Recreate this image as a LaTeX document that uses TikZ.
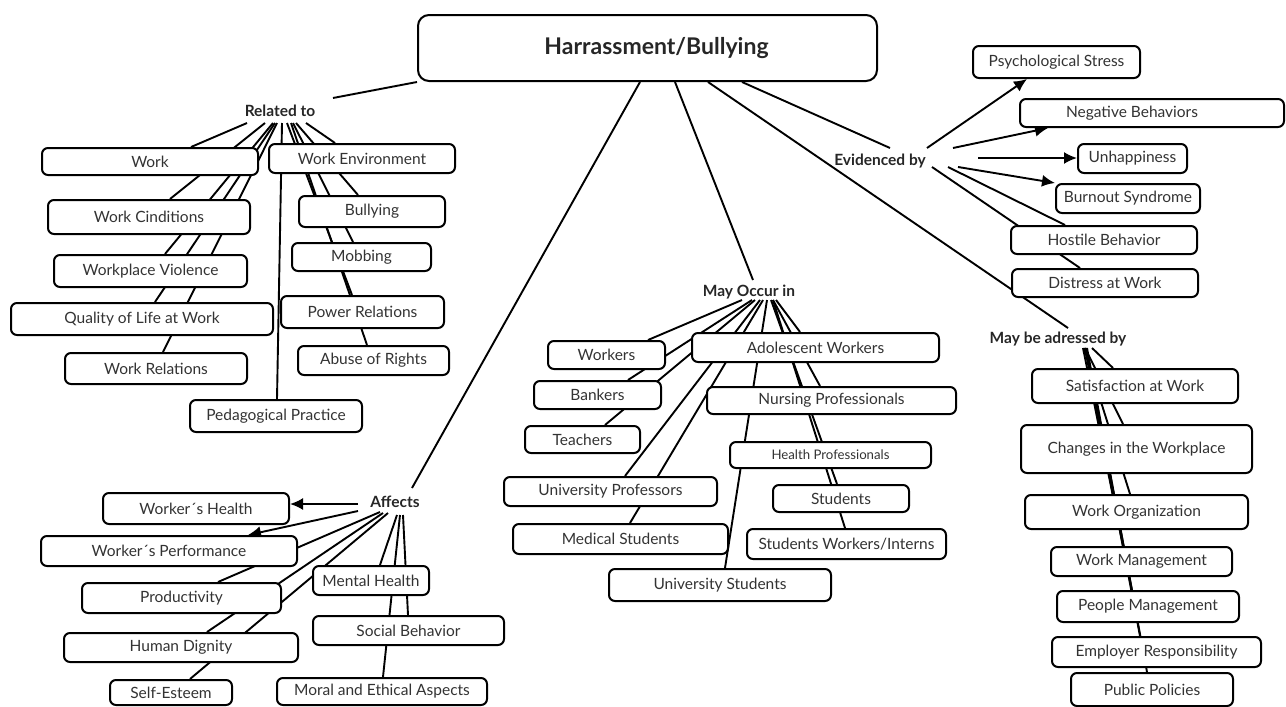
\documentclass[tikz,border=0pt]{standalone}
\usepackage{fontspec}
\setmainfont{Lato}
\usetikzlibrary{arrows.meta,calc}
\pgfdeclarelayer{bg}
\pgfsetlayers{bg,main}
\tikzset{
 cbox/.style={draw=black, rounded corners=6pt, line width=2pt, fill=white, inner sep=0pt, text=black!80, font=\fontsize{15.5}{18}\selectfont},
 lbl/.style={font=\bfseries\fontsize{15.5}{18}\selectfont, inner sep=1pt, text=black!85},
 conn/.style={line width=1.9pt},
 arr/.style={line width=1.9pt, -{Latex[length=13pt,width=12pt]}},
}
\newcommand\cbx[6]{%
 \pgfmathsetmacro\bxX{(#2+#4)/2}\pgfmathsetmacro\bxY{(#3+#5)/2}%
 \pgfmathsetmacro\bxW{#4-#2}\pgfmathsetmacro\bxH{#5-#3}%
 \node[cbox, minimum width=\bxW pt, minimum height=\bxH pt] (#1) at (\bxX,\bxY) {#6};}
\begin{document}
\begin{tikzpicture}[x=1pt,y=-1pt]
\useasboundingbox (0,0) rectangle (1286,707);
% main
\node[cbox, rounded corners=11pt, minimum width=459pt, minimum height=66pt, font=\bfseries\fontsize{23}{28}\selectfont, text=black!85] (main) at (647.5,48) {\hspace*{18pt}Harrassment/Bullying};
% labels
\node[lbl] (rel) at (280,111) {Related to};
\node[lbl] (aff) at (395,502) {Affects};
\node[lbl] (may) at (749,292) {May Occur in};
\node[lbl] (evi) at (880,161) {Evidenced by};
\node[lbl] (adr) at (1058,339) {May be adressed by};
% related to
\cbx{work}{42}{148}{258}{175}{Work}
\cbx{wenv}{269}{144}{455}{173}{Work Environment}
\cbx{wcond}{48}{200}{250}{234}{Work Cinditions}
\cbx{bull}{299}{196}{445}{227}{Bullying}
\cbx{mobb}{292}{243}{431}{271}{Mobbing}
\cbx{wviol}{54}{255}{247}{287}{Workplace Violence}
\cbx{power}{281}{296}{444}{328}{Power Relations}
\cbx{qual}{11}{303}{273}{335}{Quality of Life at Work}
\cbx{abuse}{298}{346}{449}{375}{Abuse of Rights}
\cbx{wrel}{65}{353}{247}{384}{Work Relations}
\cbx{peda}{190}{400}{362}{432}{Pedagogical Practice}
% affects
\cbx{whealth}{103}{493}{289}{524}{Worker´s Health}
\cbx{wperf}{41}{536}{297}{566}{Worker´s Performance}
\cbx{prod}{82}{583}{281}{613}{Productivity}
\cbx{hdig}{64}{633}{298}{662}{Human Dignity}
\cbx{selfe}{110}{680}{232}{705}{Self-Esteem}
\cbx{mental}{313}{566}{429}{595}{Mental Health}
\cbx{social}{313}{616}{504}{645}{Social Behavior}
\cbx{moral}{277}{678}{487}{705}{Moral and Ethical Aspects}
% may occur in
\cbx{workers}{548}{341}{665}{369}{Workers}
\cbx{adol}{692}{333}{939}{362}{Adolescent Workers}
\cbx{bank}{534}{381}{661}{409}{Bankers}
\cbx{nurs}{707}{387}{956}{414}{Nursing Professionals}
\cbx{teach}{525}{426}{640}{453}{Teachers}
\cbx{healthp}{730}{442}{931}{468}{\fontsize{13.2}{15}\selectfont Health Professionals}
\cbx{uprof}{504}{477}{717}{506}{University Professors}
\cbx{stud}{773}{485}{909}{512}{Students}
\cbx{med}{513}{524}{728}{554}{Medical Students}
\cbx{studw}{747}{529}{946}{559}{Students Workers/Interns}
\cbx{ustud}{609}{569}{831}{601}{University Students}
% evidenced by
\cbx{psy}{973}{46}{1140}{78}{Psychological Stress}
\cbx{neg}{1020}{99}{1284}{127}{Negative Behaviors\hspace*{40pt}}
\cbx{unh}{1078}{144}{1187}{173}{Unhappiness}
\cbx{burn}{1056}{184}{1200}{213}{Burnout Syndrome}
\cbx{host}{1011}{226}{1197}{254}{Hostile Behavior}
\cbx{dist}{1012}{269}{1198}{297}{Distress at Work}
% may be adressed by
\cbx{sat}{1032}{369}{1238}{403}{Satisfaction at Work}
\cbx{chg}{1021}{425}{1252}{473}{Changes in the Workplace}
\cbx{worg}{1025}{495}{1248}{529}{Work Organization}
\cbx{wmgmt}{1051}{547}{1232}{576}{Work Management}
\cbx{people}{1057}{591}{1239}{622}{People Management}
\cbx{empl}{1052}{637}{1261}{667}{Employer Responsibility}
\cbx{pub}{1071}{673}{1233}{706}{Public Policies}
\begin{pgfonlayer}{bg}
% main links
\draw[conn] (main.south west) -- ($(rel)+(53,-13)$);
\draw[conn] (main.south -| 640,0) -- ($(aff)+(17,-14)$);
\draw[conn] (main.south -| 675,0) -- ($(may)+(4,-12)$);
\draw[conn] (main.south -| 742,0) -- ($(evi)+(10,-13)$);
\draw[conn] (main.south -| 708,0) -- ($(adr)+(10,-11)$);
% related to
\draw[conn] ($(rel)+(-33,12)$) -- (work.north -| 191,0);
\draw[conn] ($(rel)+(-15,12)$) -- (wcond.north -| 170,0);
\draw[conn] ($(rel)+(-7,12)$) -- (wviol.north -| 165,0);
\draw[conn] ($(rel)+(-5,12)$) -- (qual.north -| 155,0);
\draw[conn] ($(rel)+(-3,12)$) -- (wrel.north -| 163,0);
\draw[conn] ($(rel)+(2,12)$) -- (peda.north -| 277,0);
\draw[conn] ($(rel)+(7,12)$) -- (power.north -| 352,0);
\draw[conn] ($(rel)+(11,12)$) -- (abuse.north -| 367,0);
\draw[conn] ($(rel)+(13,12)$) -- (mobb.north -| 353,0);
\draw[conn] ($(rel)+(16,12)$) -- (bull.north -| 358,0);
\draw[conn] ($(rel)+(26,12)$) -- (wenv.north -| 335,0);
% affects
\draw[arr] ($(aff)+(-37,2)$) -- (whealth.east |- 0,504);
\draw[arr] ($(aff)+(-37,9)$) -- (wperf.north -| 248,0);
\draw[conn] ($(aff)+(-15,10)$) -- (prod.north -| 218,0);
\draw[conn] ($(aff)+(-12,11)$) -- (hdig.north -| 207,0);
\draw[conn] ($(aff)+(-7,11)$) -- (selfe.north -| 190,0);
\draw[conn] ($(aff)+(2,13)$) -- (mental.north -| 380,0);
\draw[conn] ($(aff)+(5,13)$) -- (moral.north -| 383,0);
\draw[conn] ($(aff)+(8,13)$) -- (social.north -| 408,0);
% may occur in
\draw[conn] ($(may)+(-7,8)$) -- (workers.north -| 648,0);
\draw[conn] ($(may)+(3,8)$) -- (bank.north -| 628,0);
\draw[conn] ($(may)+(6,8)$) -- (teach.north -| 605,0);
\draw[conn] ($(may)+(11,8)$) -- (uprof.north -| 625,0);
\draw[conn] ($(may)+(14,8)$) -- (med.north -| 630,0);
\draw[conn] ($(may)+(18,8)$) -- (ustud.north -| 725,0);
\draw[conn] ($(may)+(22,8)$) -- (stud.north -| 837,0);
\draw[conn] ($(may)+(24,8)$) -- (studw.north -| 845,0);
\draw[conn] ($(may)+(24,8)$) -- (nurs.north -| 820,0);
\draw[conn] ($(may)+(27,8)$) -- (adol.north -| 800,0);
% evidenced by
\draw[arr] ($(evi)+(47,-13)$) -- (psy.south -| 1027,0);
\draw[arr] ($(evi)+(73,-13)$) -- (neg.south -| 1048,0);
\draw[arr] ($(evi)+(98,-3)$) -- (unh.west |- 0,158);
\draw[arr] ($(evi)+(78,6)$) -- (burn.north west);
\draw[conn] ($(evi)+(68,6)$) -- (host.north -| 1065,0);
\draw[conn] ($(evi)+(52,6)$) -- (dist.north -| 1080,0);
% may be adressed by
\draw[conn] ($(adr)+(34,9)$) -- (sat.north -| 1113,0);
\draw[conn] ($(adr)+(27,9)$) -- (chg.north -| 1123,0);
\draw[conn] ($(adr)+(26,9)$) -- (worg.north -| 1130,0);
\draw[conn] ($(adr)+(25,9)$) -- (wmgmt.north -| 1123,0);
\draw[conn] ($(adr)+(28,9)$) -- (people.north -| 1132,0);
\draw[conn] ($(adr)+(27,9)$) -- (empl.north -| 1140,0);
\draw[conn] ($(adr)+(29,9)$) -- (pub.north -| 1147,0);
\end{pgfonlayer}
\end{tikzpicture}
\end{document}
